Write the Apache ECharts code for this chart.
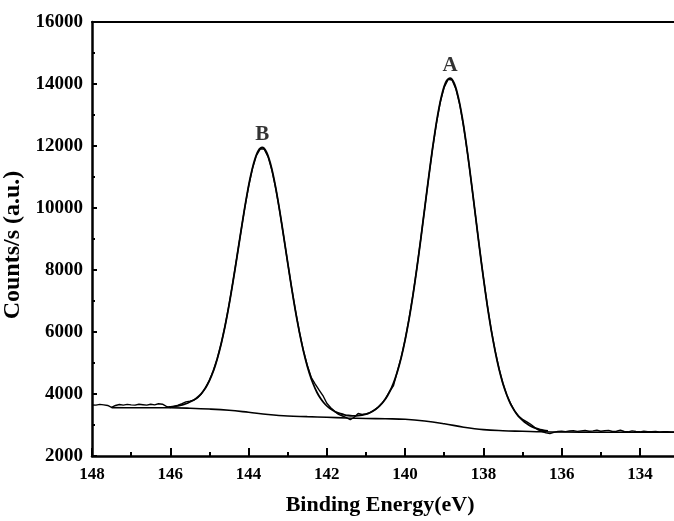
<!DOCTYPE html>
<html>
<head>
<meta charset="utf-8">
<script src="https://cdn.jsdelivr.net/npm/echarts@6/dist/echarts.min.js"></script>
<style>
html,body{margin:0;padding:0;background:#fff;}
#chart{width:674px;height:521px;}
</style>
</head>
<body>
<div id="chart"></div>
<script>
// Raw spectrum (binding energy in eV, counts/s)
var energyRaw = [
148.0,147.9,147.8,147.7,147.6,147.5,147.4,147.3,147.2,147.1,
147.0,146.9,146.8,146.7,146.6,146.5,146.4,146.3,146.2,146.1,
146.0,145.9,145.8,145.7,145.6,145.5,145.4,145.3,145.2,145.1,
145.0,144.9,144.8,144.7,144.6,144.5,144.4,144.3,144.2,144.1,
144.0,143.9,143.8,143.7,143.6,143.5,143.4,143.3,143.2,143.1,
143.0,142.9,142.8,142.7,142.6,142.5,142.4,142.3,142.2,142.1,
142.0,141.9,141.8,141.7,141.6,141.5,141.4,141.3,141.2,141.1,
141.0,140.9,140.8,140.7,140.6,140.5,140.4,140.3,140.2,140.1,
140.0,139.9,139.8,139.7,139.6,139.5,139.4,139.3,139.2,139.1,
139.0,138.9,138.8,138.7,138.6,138.5,138.4,138.3,138.2,138.1,
138.0,137.9,137.8,137.7,137.6,137.5,137.4,137.3,137.2,137.1,
137.0,136.9,136.8,136.7,136.6,136.5,136.4,136.3,136.2,136.1,
136.0,135.9,135.8,135.7,135.6,135.5,135.4,135.3,135.2,135.1,
135.0,134.9,134.8,134.7,134.6,134.5,134.4,134.3,134.2,134.1,
134.0,133.9,133.8,133.7,133.6,133.5,133.4,133.3,133.2,133.1,
133.0,132.9,132.8,132.7,132.6,132.5
];
var countsRaw = [
3645,3640,3665,3650,3630,3565,3630,3660,3640,3665,
3650,3640,3670,3655,3640,3670,3650,3685,3670,3600,
3560,3600,3640,3690,3745,3770,3800,3880,4010,4200,
4440,4750,5140,5620,6200,6870,7610,8400,9200,9980,
10690,11270,11690,11910,11900,11650,11200,10600,9870,9060,
8240,7430,6680,6000,5410,4930,4540,4330,4130,3950,
3700,3560,3440,3340,3290,3240,3170,3250,3370,3340,
3355,3400,3470,3560,3690,3850,4080,4260,4720,5180,
5750,6420,7190,8060,9000,9980,10960,11900,12730,13420,
13900,14150,14130,13830,13310,12590,11720,10750,9730,8720,
7760,6870,6080,5400,4820,4340,3970,3680,3450,3280,
3180,3110,3030,2930,2840,2790,2745,2720,2760,2790,
2800,2785,2805,2820,2795,2810,2825,2800,2810,2830,
2800,2815,2825,2790,2800,2830,2790,2780,2810,2790,
2780,2800,2785,2780,2790,2775,2785,2780,2775,2780,
2775,2780,2775,2780,2775,2780
];

// Fitted envelope
var energyFit = [
146.05,145.95,145.85,145.75,145.65,145.55,145.45,145.35,145.25,145.15,
145.05,144.95,144.85,144.75,144.65,144.55,144.45,144.35,144.25,144.15,
144.05,143.95,143.85,143.75,143.65,143.55,143.45,143.35,143.25,143.15,
143.05,142.95,142.85,142.75,142.65,142.55,142.45,142.35,142.25,142.15,
142.05,141.95,141.85,141.75,141.65,141.55,141.45,141.35,141.25,141.15,
141.05,140.95,140.85,140.75,140.65,140.55,140.45,140.35,140.25,140.15,
140.05,139.95,139.85,139.75,139.65,139.55,139.45,139.35,139.25,139.15,
139.05,138.95,138.85,138.75,138.65,138.55,138.45,138.35,138.25,138.15,
138.05,137.95,137.85,137.75,137.65,137.55,137.45,137.35,137.25,137.15,
137.05,136.95,136.85,136.75,136.65,136.55,136.45,136.35
];
var countsFit = [
3582,3592,3608,3632,3664,3711,3773,3848,3953,4103,
4307,4577,4924,5362,5893,6517,7224,7992,8798,9601,
10357,11015,11527,11850,11951,11822,11473,10937,10255,9476,
8650,7824,7039,6318,5682,5139,4689,4330,4049,3836,
3677,3563,3478,3409,3365,3330,3307,3297,3297,3307,
3331,3369,3428,3509,3614,3758,3943,4190,4514,4927,
5440,6058,6777,7603,8513,9485,10477,11447,12345,13118,
13712,14081,14192,14037,13626,12992,12182,11250,10246,9224,
8225,7293,6449,5711,5080,4557,4135,3805,3551,3360,
3210,3096,3008,2939,2890,2854,2829,2811
];

// Shirley background
var energyBg = [147.5,147.0,146.5,146.0,145.5,145.0,144.5,144.0,143.5,143.0,142.5,142.0,141.5,141.0,140.5,140.0,139.5,139.0,138.5,138.0,137.5,137.0,136.5,136.0,135.0,134.0,133.0,132.0];
var countsBg = [3560,3558,3557,3555,3540,3515,3475,3410,3340,3290,3270,3250,3228,3212,3200,3185,3130,3040,2930,2850,2815,2798,2780,2772,2768,2765,2765,2765];

// Peak labels
var peakNames = ['A','B'];
var peakEnergies = [138.85, 143.65];
var peakCounts = [14192, 11951];

// Axis ticks
var xTicks = [148,146,144,142,140,138,136,134];
var yTicks = [2000,4000,6000,8000,10000,12000,14000,16000];

function zip(a,b){ return a.map(function(v,i){ return [v,b[i]]; }); }

var FONT = 'Liberation Serif';
var chart = echarts.init(document.getElementById('chart'), null, {renderer:'canvas'});
chart.setOption({
  animation:false,
  backgroundColor:'#fff',
  grid:{left:92, top:22, width:626.2, height:434, containLabel:false, outerBoundsMode:'none'},
  xAxis:[{
    type:'value', inverse:true, min:132, max:148, interval:2,
    name:'Binding Energy(eV)', nameLocation:'middle', nameGap:38,
    nameTextStyle:{fontFamily:FONT, fontWeight:'bold', fontSize:22, color:'#000', padding:[0,50,0,0]},
    axisLine:{show:true, onZero:false, lineStyle:{color:'#000', width:2.5}},
    axisTick:{show:true, inside:true, length:8, lineStyle:{color:'#000', width:2}},
    minorTick:{show:true, splitNumber:2, length:4, lineStyle:{color:'#000', width:2}},
    axisLabel:{fontFamily:FONT, fontWeight:'bold', fontSize:17, color:'#000', margin:10,
      formatter:function(v){ return xTicks.indexOf(v)>=0 ? String(v) : ''; }},
    splitLine:{show:false}
  },{
    type:'value', inverse:true, min:132, max:148, position:'top',
    axisLine:{show:true, onZero:false, lineStyle:{color:'#000', width:2}},
    axisTick:{show:false}, axisLabel:{show:false}, splitLine:{show:false}
  }],
  yAxis:{
    type:'value', min:2000, max:16000, interval:2000,
    name:'Counts/s (a.u.)', nameLocation:'middle', nameGap:47, nameRotate:90,
    nameTextStyle:{fontFamily:FONT, fontWeight:'bold', fontSize:24, color:'#000', padding:[0,12,0,0]},
    axisLine:{show:true, onZero:false, lineStyle:{color:'#000', width:2.5}},
    axisTick:{show:true, inside:true, length:5, lineStyle:{color:'#000', width:2}},
    minorTick:{show:true, splitNumber:2, length:3, lineStyle:{color:'#000', width:2}},
    axisLabel:{fontFamily:FONT, fontWeight:'bold', fontSize:19, color:'#000', margin:9,
      formatter:function(v){ return yTicks.indexOf(v)>=0 ? String(v) : ''; }},
    splitLine:{show:false}
  },
  series:[
    {type:'line', name:'raw', data:zip(energyRaw,countsRaw), showSymbol:false, symbol:'none',
     lineStyle:{color:'#000', width:1.4}, z:3},
    {type:'line', name:'fit', data:zip(energyFit,countsFit), showSymbol:false, symbol:'none', smooth:0.3,
     lineStyle:{color:'#000', width:1.8}, z:4},
    {type:'line', name:'background', data:zip(energyBg,countsBg), showSymbol:false, symbol:'none', smooth:0.4,
     lineStyle:{color:'#000', width:1.6}, z:2},
    {type:'scatter', name:'labels', symbolSize:0,
     data:peakNames.map(function(n,i){ return {value:[peakEnergies[i], peakCounts[i]], name:n}; }),
     label:{show:true, position:'top', distance:2, formatter:'{b}',
       fontFamily:FONT, fontWeight:'bold', fontSize:21, color:'#000'}, z:5}
  ]
});
</script>
</body>
</html>
